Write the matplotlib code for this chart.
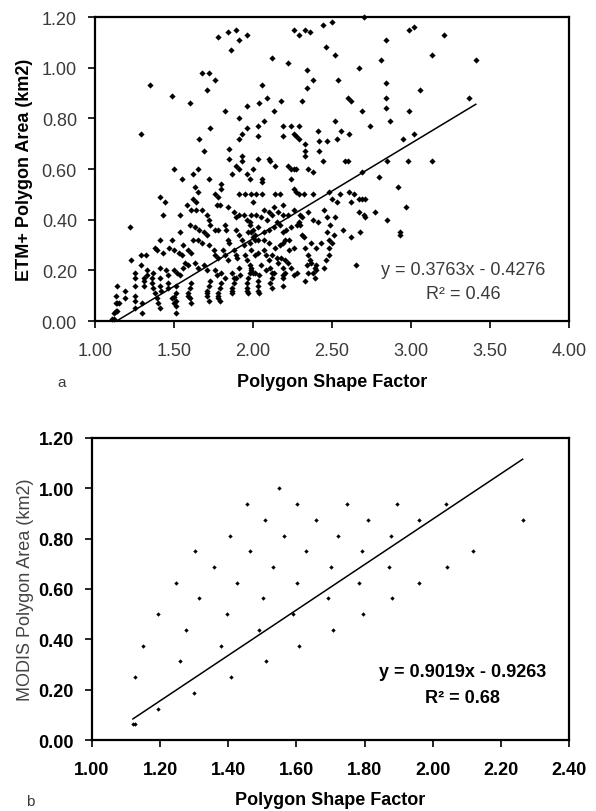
import matplotlib
matplotlib.use("Agg")
import matplotlib.pyplot as plt
import numpy as np

plt.rcParams['font.family'] = ['Liberation Sans', 'DejaVu Sans']

# ---- panel a : ETM+ polygons ----
# upper left part, y above ~0.5
etm_upper_left = [
    (1.29, 0.74), (1.35, 0.93), (1.49, 0.89), (1.60, 0.86), (1.66, 0.72), (1.68, 0.98),
    (1.71, 0.91), (1.72, 0.98), (1.69, 0.67), (1.73, 0.76), (1.76, 0.95), (1.78, 1.12),
    (1.82, 0.83), (1.84, 1.14), (1.86, 1.07), (1.89, 1.15), (1.91, 1.11), (1.96, 1.13),
    (1.91, 0.80), (1.96, 0.85), (1.93, 0.74), (1.96, 0.76), (1.91, 0.72), (2.06, 0.93),
    (2.03, 0.77), (2.04, 0.86), (2.03, 0.73), (2.07, 0.79), (2.09, 0.88), (2.13, 0.83),
    (2.12, 1.04), (2.18, 0.87), (2.22, 1.02), (2.19, 0.77), (2.19, 0.73), (2.24, 0.77),
    (2.26, 0.74), (2.29, 0.77), (2.26, 1.15), (2.29, 1.13),
    (1.85, 0.68), (1.85, 0.64), (1.87, 0.58), (1.89, 0.61), (1.91, 0.60), (1.93, 0.65),
    (1.93, 0.63), (1.96, 0.58), (1.98, 0.56), (2.00, 0.60), (2.03, 0.64), (2.06, 0.56),
    (2.06, 0.55), (2.10, 0.64), (2.11, 0.63), (2.14, 0.61), (2.22, 0.61), (2.24, 0.60),
    (2.26, 0.60), (2.24, 0.56), (2.26, 0.52), (1.62, 0.58), (1.65, 0.60), (1.72, 0.56),
    (1.55, 0.56), (1.50, 0.60), (1.63, 0.53), (1.80, 0.54), (1.80, 0.52),
]
# upper right part
etm_upper_right = [
    (2.70, 1.20), (2.44, 1.17), (2.50, 1.18), (2.33, 1.15), (2.36, 1.14), (2.99, 1.15),
    (3.02, 1.16), (3.21, 1.13), (2.84, 1.11), (2.46, 1.08), (2.52, 1.05), (2.81, 1.03),
    (3.13, 1.05), (3.41, 1.03), (2.34, 0.99), (2.38, 0.95), (2.67, 1.00), (2.54, 0.95),
    (2.34, 0.92), (2.84, 0.94), (3.06, 0.91), (2.84, 0.88), (2.84, 0.84), (2.60, 0.88),
    (2.62, 0.87), (2.31, 0.87), (3.37, 0.88), (2.69, 0.83), (2.99, 0.83), (2.87, 0.79),
    (2.52, 0.79), (2.74, 0.77), (2.56, 0.75), (2.61, 0.74), (2.41, 0.75), (2.27, 0.73),
    (2.29, 0.72), (2.42, 0.71), (2.47, 0.71), (2.53, 0.72), (3.02, 0.74), (2.95, 0.72),
    (2.33, 0.70), (2.33, 0.67), (2.33, 0.65), (2.42, 0.67), (2.44, 0.63), (2.58, 0.63),
    (2.60, 0.63), (2.85, 0.63), (2.98, 0.63), (3.13, 0.63), (2.27, 0.60), (2.35, 0.60),
    (2.38, 0.59), (2.69, 0.59), (2.80, 0.57), (2.92, 0.53),
]
# right of the cloud, below 0.5
etm_right = [
    (2.50, 0.48), (2.53, 0.47), (2.55, 0.50), (2.61, 0.51), (2.62, 0.47), (2.64, 0.50),
    (2.67, 0.48), (2.69, 0.48), (2.71, 0.48), (2.67, 0.43), (2.70, 0.42), (2.71, 0.41),
    (2.77, 0.43), (2.85, 0.40), (2.97, 0.45), (2.47, 0.41), (2.52, 0.41), (2.49, 0.38),
    (2.57, 0.36), (2.68, 0.35), (2.62, 0.33), (2.47, 0.35), (2.51, 0.34), (2.48, 0.32),
    (2.50, 0.31), (2.48, 0.29), (2.93, 0.35), (2.93, 0.34), (2.65, 0.22),
]
# x 2.0 - 2.5
etm_mid = [
    (2.02, 0.50), (2.06, 0.50), (2.14, 0.50), (2.17, 0.50), (2.27, 0.51), (2.29, 0.50),
    (2.32, 0.50), (2.38, 0.50), (2.48, 0.51),
    (2.00, 0.47), (2.07, 0.44), (2.10, 0.43), (2.13, 0.45), (2.16, 0.43), (2.19, 0.46),
    (2.19, 0.42), (2.22, 0.42), (2.26, 0.44), (2.02, 0.42), (2.05, 0.41), (2.09, 0.40),
    (2.12, 0.42), (2.30, 0.42), (2.31, 0.41), (2.35, 0.43), (2.38, 0.40), (2.41, 0.39),
    (2.45, 0.44),
    (1.98, 0.38), (1.99, 0.35), (2.00, 0.33), (2.03, 0.37), (2.07, 0.35), (2.10, 0.36),
    (2.13, 0.37), (2.15, 0.39), (2.17, 0.38), (2.19, 0.35), (2.21, 0.36), (2.24, 0.37),
    (2.28, 0.38), (2.29, 0.39), (2.30, 0.38),
    (1.98, 0.31), (2.01, 0.32), (2.03, 0.32), (2.07, 0.32), (2.10, 0.31), (2.14, 0.29),
    (2.17, 0.30), (2.19, 0.31), (2.20, 0.32), (2.23, 0.32), (2.31, 0.34), (2.32, 0.33),
    (2.33, 0.29), (2.37, 0.31), (2.40, 0.29), (2.43, 0.31),
    (1.99, 0.28), (2.01, 0.26), (2.03, 0.27), (2.07, 0.28), (2.08, 0.26), (2.10, 0.24),
    (2.12, 0.26), (2.15, 0.25), (2.16, 0.23), (2.18, 0.25), (2.20, 0.24), (2.23, 0.28),
    (2.26, 0.29), (2.35, 0.26), (2.36, 0.24), (2.37, 0.23), (2.39, 0.21), (2.40, 0.22),
    (2.46, 0.24), (2.48, 0.26),
    (1.99, 0.21), (2.01, 0.19), (2.05, 0.22), (2.08, 0.20), (2.11, 0.21), (2.13, 0.19),
    (2.19, 0.21), (2.20, 0.19), (2.22, 0.23), (2.24, 0.21), (2.26, 0.18), (2.28, 0.19),
    (2.34, 0.22), (2.35, 0.19), (2.38, 0.19),
    (2.04, 0.18), (2.03, 0.16), (2.03, 0.14), (2.03, 0.12), (2.04, 0.11), (2.12, 0.19),
    (2.12, 0.17), (2.11, 0.15), (2.12, 0.13), (2.19, 0.18), (2.19, 0.17), (2.19, 0.14),
    (2.33, 0.16), (2.39, 0.17), (2.40, 0.20), (2.45, 0.21),
]
# x 1.5 - 2.0
etm_left = [
    (1.65, 0.51), (1.76, 0.50), (1.78, 0.49), (1.91, 0.50), (1.95, 0.50), (1.99, 0.50),
    (1.62, 0.48), (1.64, 0.47), (1.58, 0.46), (1.61, 0.44), (1.64, 0.44), (1.68, 0.44),
    (1.54, 0.42), (1.71, 0.42), (1.72, 0.40), (1.77, 0.46), (1.79, 0.46), (1.84, 0.45),
    (1.88, 0.43), (1.89, 0.41), (1.91, 0.42), (1.94, 0.42), (1.96, 0.40), (1.98, 0.39),
    (1.99, 0.42),
    (1.60, 0.38), (1.63, 0.37), (1.66, 0.36), (1.69, 0.35), (1.71, 0.34), (1.54, 0.35),
    (1.73, 0.38), (1.76, 0.36), (1.78, 0.36), (1.82, 0.38), (1.83, 0.36), (1.84, 0.32),
    (1.85, 0.31), (1.89, 0.36), (1.91, 0.34), (1.93, 0.32), (1.94, 0.30), (1.97, 0.35),
    (2.00, 0.36), (2.01, 0.34),
    (1.62, 0.32), (1.65, 0.32), (1.68, 0.31), (1.56, 0.30), (1.59, 0.28), (1.61, 0.27),
    (1.53, 0.27), (1.55, 0.26), (1.72, 0.30), (1.75, 0.28), (1.76, 0.26), (1.78, 0.25),
    (1.81, 0.28), (1.82, 0.26), (1.84, 0.24), (1.88, 0.28), (1.89, 0.26), (1.90, 0.25),
    (1.95, 0.26), (1.96, 0.24), (1.98, 0.22), (1.99, 0.20),
    (1.57, 0.23), (1.59, 0.22), (1.63, 0.23), (1.65, 0.21), (1.69, 0.22), (1.71, 0.20),
    (1.52, 0.19), (1.54, 0.18), (1.56, 0.21), (1.76, 0.20), (1.77, 0.18), (1.80, 0.19),
    (1.82, 0.17), (1.87, 0.19), (1.88, 0.17), (1.91, 0.21), (1.92, 0.18), (2.00, 0.19),
    (1.51, 0.14), (1.51, 0.11), (1.50, 0.095), (1.51, 0.08), (1.51, 0.06), (1.51, 0.03),
    (1.61, 0.15), (1.60, 0.13), (1.59, 0.11), (1.59, 0.10), (1.60, 0.09), (1.61, 0.07),
    (1.73, 0.16), (1.72, 0.14), (1.71, 0.12), (1.71, 0.11), (1.71, 0.10), (1.72, 0.08),
    (1.80, 0.15), (1.79, 0.13), (1.78, 0.11), (1.78, 0.10), (1.78, 0.09), (1.79, 0.08),
    (1.89, 0.17), (1.88, 0.15), (1.87, 0.13), (1.87, 0.12), (1.87, 0.11),
    (1.98, 0.19), (1.97, 0.17), (1.96, 0.15), (1.96, 0.13), (1.96, 0.12), (1.97, 0.11),
]
# x 1.1 - 1.5
etm_far_left = [
    (1.41, 0.49), (1.44, 0.47), (1.43, 0.42), (1.22, 0.37), (1.23, 0.24), (1.29, 0.26),
    (1.32, 0.26), (1.41, 0.32), (1.49, 0.32), (1.38, 0.29), (1.39, 0.28), (1.43, 0.27),
    (1.47, 0.29), (1.50, 0.28), (1.29, 0.22), (1.33, 0.20), (1.33, 0.18), (1.37, 0.19),
    (1.41, 0.21), (1.45, 0.20), (1.50, 0.20), (1.25, 0.19), (1.25, 0.17), (1.25, 0.14),
    (1.31, 0.17), (1.31, 0.16), (1.31, 0.14), (1.36, 0.17), (1.36, 0.15), (1.37, 0.13),
    (1.41, 0.17), (1.41, 0.14), (1.42, 0.12), (1.46, 0.18), (1.46, 0.15), (1.46, 0.13),
    (1.14, 0.14), (1.19, 0.12), (1.19, 0.09), (1.13, 0.10), (1.13, 0.07), (1.14, 0.07),
    (1.15, 0.07), (1.25, 0.10), (1.25, 0.08), (1.30, 0.07), (1.30, 0.03), (1.39, 0.09),
    (1.40, 0.07), (1.41, 0.05), (1.38, 0.11), (1.49, 0.09), (1.50, 0.07), (1.12, 0.03),
    (1.12, 0.01), (1.11, 0.01), (1.25, 0.05), (1.13, 0.04), (1.14, 0.04),
]
etm_fit = (0.3763, -0.4276)

# ---- panel b : MODIS polygons ----
modis_x = [1.548, 1.454, 1.602, 1.748, 1.895, 2.040, 1.507, 1.657, 1.810, 1.959, 2.264,
           1.405, 1.563, 1.721, 1.877, 1.302, 1.464, 1.627, 1.792, 2.119, 1.359, 1.530,
           1.701, 1.872, 2.042, 1.247, 1.425, 1.602, 1.783, 1.961, 1.313, 1.502, 1.692,
           1.880, 1.195, 1.397, 1.591, 1.794, 1.277, 1.491, 1.706, 1.149, 1.379, 1.607,
           1.258, 1.510, 1.125, 1.408, 1.300, 1.194, 1.120, 1.127]
modis_y = [1.0, 0.9375, 0.9375, 0.9375, 0.9375, 0.9375, 0.875, 0.875, 0.875, 0.875, 0.875,
           0.8125, 0.8125, 0.8125, 0.8125, 0.75, 0.75, 0.75, 0.75, 0.75, 0.6875, 0.6875,
           0.6875, 0.6875, 0.6875, 0.625, 0.625, 0.625, 0.625, 0.625, 0.5625, 0.5625, 0.5625,
           0.5625, 0.5, 0.5, 0.5, 0.5, 0.4375, 0.4375, 0.4375, 0.375, 0.375, 0.375,
           0.3125, 0.3125, 0.25, 0.25, 0.1875, 0.125, 0.0625, 0.0625]
modis_fit = (0.9019, -0.9263)

etm = np.array(etm_upper_left + etm_upper_right + etm_right + etm_mid + etm_left + etm_far_left)

fig = plt.figure(figsize=(5.96, 8.12), dpi=100)
ax1 = fig.add_axes([0.1594, 0.6034, 0.7953, 0.3744])
ax2 = fig.add_axes([0.1544, 0.0874, 0.8003, 0.3720])

grey = '#3a3a3a'

def style(ax, xt, bold, tcol):
    for s in ax.spines.values():
        s.set_linewidth(1.6)
        s.set_color('black')
    ax.set_xticks(xt)
    ax.set_yticks(np.arange(0, 1.21, 0.2))
    ax.set_ylim(0, 1.2)
    ax.xaxis.set_major_formatter(plt.FormatStrFormatter('%.2f'))
    ax.yaxis.set_major_formatter(plt.FormatStrFormatter('%.2f'))
    ax.tick_params(direction='out', length=5, width=1.2, labelsize=13, labelcolor=tcol)
    ax.tick_params(axis='x', pad=10)
    ax.tick_params(axis='y', pad=8)
    for lab in ax.get_xticklabels() + ax.get_yticklabels():
        lab.set_fontweight('bold' if bold else 'normal')

# panel a
ax1.scatter(etm[:, 0], etm[:, 1], s=10, marker='D', color='black', linewidths=0, clip_on=False)
xl = np.array([etm[:, 0].min(), etm[:, 0].max()])
ax1.plot(xl, np.polyval(etm_fit, xl), color='black', lw=1.1)
ax1.set_xlim(1.0, 4.0)
style(ax1, np.arange(1.0, 4.01, 0.5), False, grey)
ax1.set_ylabel('ETM+ Polygon Area (km2)', fontsize=13, fontweight='bold')
ax1.set_xlabel('Polygon Shape Factor', fontsize=13, fontweight='bold')
ax1.yaxis.set_label_coords(-0.13, 0.5)
ax1.xaxis.set_label_coords(0.5, -0.17)
ax1.text(0.776, 0.171, 'y = 0.3763x - 0.4276', transform=ax1.transAxes,
         ha='center', va='center', fontsize=13, color=grey)
ax1.text(0.776, 0.092, 'R² = 0.46', transform=ax1.transAxes,
         ha='center', va='center', fontsize=13, color=grey)
fig.text(0.104, 0.528, 'a', fontsize=11, color=grey, ha='center', va='center')

# panel b
ax2.scatter(modis_x, modis_y, s=5, marker='D', color='black', linewidths=0)
xl = np.array([min(modis_x), max(modis_x)])
ax2.plot(xl, np.polyval(modis_fit, xl), color='black', lw=1.1)
ax2.set_xlim(1.0, 2.4)
style(ax2, np.arange(1.0, 2.41, 0.2), True, 'black')
ax2.set_ylabel('MODIS Polygon Area (km2)', fontsize=13, color='#444444')
ax2.set_xlabel('Polygon Shape Factor', fontsize=13, fontweight='bold')
ax2.yaxis.set_label_coords(-0.122, 0.5)
ax2.xaxis.set_label_coords(0.5, -0.17)
ax2.text(0.776, 0.228, 'y = 0.9019x - 0.9263', transform=ax2.transAxes,
         ha='center', va='center', fontsize=13, fontweight='bold')
ax2.text(0.776, 0.142, 'R² = 0.68', transform=ax2.transAxes,
         ha='center', va='center', fontsize=13, fontweight='bold')
fig.text(0.05, 0.012, 'b', fontsize=11, color=grey, ha='center', va='center')

fig.savefig('out.png', dpi=100, facecolor='white')
